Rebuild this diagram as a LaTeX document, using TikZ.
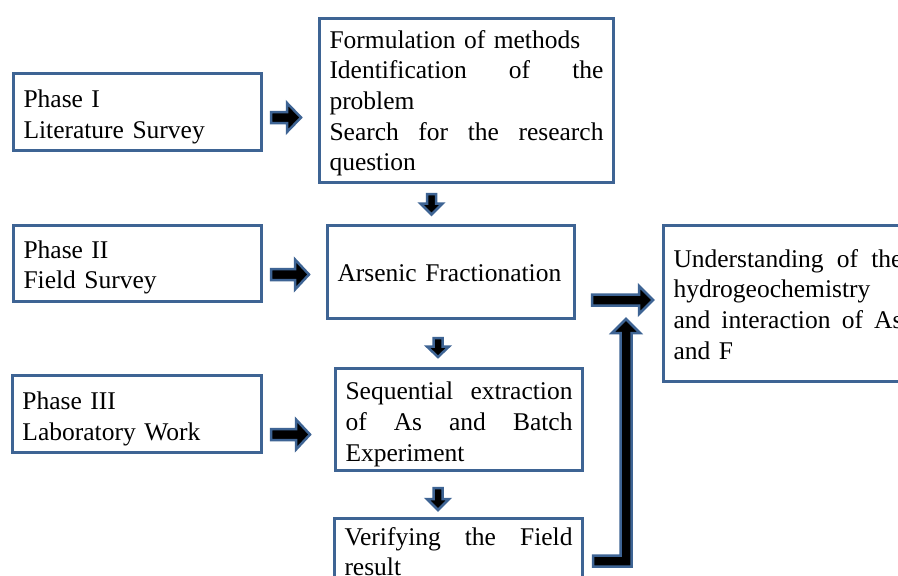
\documentclass[tikz,border=0pt]{standalone}
\usepackage{fontspec}
\setmainfont[WordSpace=0.8]{Liberation Serif}
\usetikzlibrary{calc}
\definecolor{bordc}{RGB}{62,100,148}
\newcommand\fs{\fontsize{25.5}{30.7}\selectfont}
% horizontal block arrow: start, tip, shaft half, head half, head length
\newcommand\harrow[5]{\path[blk] let \p1=(#1), \p2=(#2) in
  (\x1,\y1+#3pt) -- (\x2-#5pt,\y1+#3pt) -- (\x2-#5pt,\y1+#4pt) -- (\x2,\y1)
  -- (\x2-#5pt,\y1-#4pt) -- (\x2-#5pt,\y1-#3pt) -- (\x1,\y1-#3pt) -- cycle;}
% downward block arrow
\newcommand\darrow[5]{\path[blk] let \p1=(#1), \p2=(#2) in
  (\x1-#3pt,\y1) -- (\x1-#3pt,\y2+#5pt) -- (\x1-#4pt,\y2+#5pt) -- (\x1,\y2)
  -- (\x1+#4pt,\y2+#5pt) -- (\x1+#3pt,\y2+#5pt) -- (\x1+#3pt,\y1) -- cycle;}
% right-then-up block arrow
\newcommand\barrow[5]{\path[blk] let \p1=(#1), \p2=(#2) in
  (\x1,\y1+#3pt) -- (\x2-#3pt,\y1+#3pt) -- (\x2-#3pt,\y2-#5pt) -- (\x2-#4pt,\y2-#5pt)
  -- (\x2,\y2) -- (\x2+#4pt,\y2-#5pt) -- (\x2+#3pt,\y2-#5pt) -- (\x2+#3pt,\y1-#3pt)
  -- (\x1,\y1-#3pt) -- cycle;}
\tikzset{
  box/.style={draw=bordc, line width=3pt, rectangle, inner xsep=10pt, inner ysep=0pt,
    align=left, font=\fs},
  dn/.style={execute at begin node={\rule{0pt}{#1}}},
  blk/.style={draw=bordc, fill=black, line width=2.5pt, line join=miter}
}
\begin{document}
\begin{tikzpicture}[x=1pt,y=-1pt]
\useasboundingbox (0,0) rectangle (898,576);
\clip (0,0) rectangle (898,576);
\fill[white] (0,0) rectangle (898,576);

\node[box, dn=27.5pt, minimum width=248pt, minimum height=77pt, text width=228pt] (P1) at (137.5,112)
  {Phase I\\Literature Survey};
\node[box, dn=23.5pt, minimum width=294pt, minimum height=164pt, text width=274pt] (F) at (466.5,100.5)
  {Formulation of methods\\Identification\hfill of\hfill the\\problem\\Search\hfill for\hfill the\hfill research\\question};
\node[box, dn=25.5pt, minimum width=248pt, minimum height=76pt, text width=228pt] (P2) at (137.5,263.5)
  {Phase II\\Field Survey};
\node[box, dn=19.5pt, minimum width=247pt, minimum height=93pt, text width=227pt] (AF) at (451,272)
  {Arsenic Fractionation};
\node[box, dn=27.5pt, minimum width=249pt, minimum height=77pt, text width=229pt] (P3) at (137,414)
  {Phase III\\Laboratory Work};
\node[box, dn=27.5pt, minimum width=247pt, minimum height=102pt, text width=227pt] (SE) at (459,419.5)
  {Sequential\hfill extraction\\of\hfill As\hfill and\hfill Batch\\Experiment};
\node[box, minimum width=248pt, minimum height=66pt, text width=228pt] (V) at (458.5,551.5)
  {Verifying\hfill the\hfill Field\\result};
\node[box, dn=19.5pt, minimum width=249pt, minimum height=156pt, text width=229pt] (U) at (788,303.5)
  {Understanding\hfill of\hfill the\\hydrogeochemistry\\and\hfill interaction\hfill of\hfill As\\and F};

% arrow end points, placed relative to the boxes they join
\coordinate (a1s) at ($(P1.east)+(8,5.5)$);
\coordinate (a1e) at ($(a1s -| F.west)+(-17,0)$);
\coordinate (a2s) at ($(F.south)+(-35,10)$);
\coordinate (a2e) at ($(a2s |- AF.north)+(0,-9.5)$);
\coordinate (a3s) at ($(P2.east)+(8,11)$);
\coordinate (a3e) at ($(a3s -| AF.west)+(-17,0)$);
\coordinate (a4s) at ($(AF.east)+(16,28)$);
\coordinate (a4e) at ($(a4s -| U.west)+(-9,0)$);
\coordinate (a5s) at ($(AF.south)+(-13,18)$);
\coordinate (a5e) at ($(a5s |- SE.north)+(0,-10)$);
\coordinate (a6s) at ($(P3.east)+(8,20.5)$);
\coordinate (a6e) at ($(a6s -| SE.west)+(-24,0)$);
\coordinate (a7s) at ($(SE.south)+(-21,16)$);
\coordinate (a7e) at ($(a7s |- V.north)+(0,-7)$);
\coordinate (a8s) at ($(V.east)+(9,9.5)$);
\coordinate (a8e) at ($(U.west)+(-36,15.5)$);

\harrow{a1s}{a1e}{5.5}{14.5}{14}
\darrow{a2s}{a2e}{4.5}{11}{11}
\harrow{a3s}{a3e}{5.5}{15}{14}
\harrow{a4s}{a4e}{5.5}{14}{14}
\darrow{a5s}{a5e}{4.5}{11}{10.5}
\harrow{a6s}{a6e}{5.5}{15}{14}
\darrow{a7s}{a7e}{4.5}{11}{11}
\barrow{a8s}{a8e}{5.5}{14}{14}
\end{tikzpicture}
\end{document}
